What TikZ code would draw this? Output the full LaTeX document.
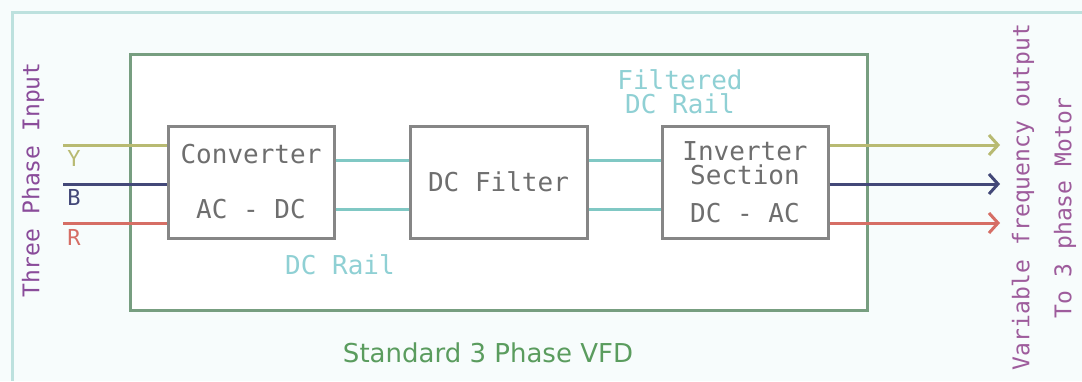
\documentclass[tikz,border=0pt]{standalone}
\usepackage{fontspec}
\setmainfont{DejaVu Sans}
\setmonofont{DejaVu Sans Mono}
\usetikzlibrary{arrows.meta}
\definecolor{FrameTeal}{HTML}{BDE1DE}
\definecolor{PaperTint}{HTML}{F7FCFC}
\definecolor{BoxGreen}{HTML}{779E80}
\definecolor{BoxGray}{HTML}{868686}
\definecolor{TextGray}{HTML}{6E6E6E}
\definecolor{RailTeal}{HTML}{80C8C4}
\definecolor{RailText}{HTML}{8FD0D4}
\definecolor{PhaseY}{HTML}{B8BA72}
\definecolor{PhaseB}{HTML}{434878}
\definecolor{PhaseR}{HTML}{D66E65}
\definecolor{InputPurple}{HTML}{8A4C9A}
\definecolor{OutputPurple}{HTML}{9E5C9C}
\definecolor{VfdGreen}{HTML}{5A9C5E}

\tikzset{
  block/.style={draw=BoxGray, line width=3pt, fill=white, minimum width=166pt, minimum height=112pt, inner sep=0pt, align=center, text=TextGray, font=\ttfamily\fontsize{26}{24}\selectfont},
  rail/.style={RailTeal, line width=3pt},
  phasein/.style={line width=3pt},
  phaseout/.style={line width=3pt, -{Straight Barb[length=9pt,width=20pt,line width=3pt]}},
  railtext/.style={text=RailText, align=center, inner sep=0pt, font=\ttfamily\fontsize{26}{24}\selectfont},
  sidetext/.style={rotate=90, inner sep=0pt, font=\ttfamily\fontsize{23}{23}\selectfont},
  phasetext/.style={inner sep=0pt, font=\ttfamily\fontsize{22}{22}\selectfont}
}

\begin{document}
\begin{tikzpicture}[x=1pt,y=-1pt]
            % page and outer frame
            \useasboundingbox (0,0) rectangle (1082,381);
            \fill[PaperTint] (0,0) rectangle (1082,381);
            \draw[FrameTeal, line width=3pt] (1082,12) -- (12,12) -- (12,381);

            % drive enclosure and its three stages
            \node[draw=BoxGreen, line width=3pt, fill=white, minimum width=737pt, minimum height=256pt] (vfd) at (498.5,182) {};
            \node[block] (conv) at (251,182) {Converter\\[31pt]AC - DC};
            \node[block, minimum width=177pt] (filt) at (498.5,182) {DC Filter};
            \node[block] (inv) at (745,182) {Inverter\\Section\\[14pt]DC - AC};

            % supply and motor ends
            \coordinate (inY) at (63,145);
            \coordinate (inB) at (63,184);
            \coordinate (inR) at (63,223);
            \coordinate (outY) at (1000,145);
            \coordinate (outB) at (1000,184);
            \coordinate (outR) at (1000,223);

            \draw[phasein, PhaseY] (inY) -- (inY -| conv.west);
            \draw[phasein, PhaseB] (inB) -- (inB -| conv.west);
            \draw[phasein, PhaseR] (inR) -- (inR -| conv.west);

            \draw[rail] ([yshift=-27pt]conv.east) -- ([yshift=-27pt]filt.west);
            \draw[rail] ([yshift=22pt]conv.east) -- ([yshift=22pt]filt.west);
            \draw[rail] ([yshift=-27pt]filt.east) -- ([yshift=-27pt]inv.west);
            \draw[rail] ([yshift=22pt]filt.east) -- ([yshift=22pt]inv.west);

            \draw[phaseout, PhaseY] (inv.east |- outY) -- (outY);
            \draw[phaseout, PhaseB] (inv.east |- outB) -- (outB);
            \draw[phaseout, PhaseR] (inv.east |- outR) -- (outR);

            % labels
            \node[phasetext, text=PhaseY] (lblY) at (74,158) {Y};
            \node[phasetext, text=PhaseB] (lblB) at (74,197) {B};
            \node[phasetext, text=PhaseR] (lblR) at (74,237) {R};
            \node[sidetext, text=InputPurple] (input) at (33,180) {Three Phase Input};
            \node[sidetext, text=OutputPurple] (outfreq) at (1023,197) {Variable frequency output};
            \node[sidetext, text=OutputPurple] (motor) at (1065,208) {To 3 phase Motor};
            \node[railtext] (dcrail) at (340,265) {DC Rail};
            \node[railtext] (filtrail) at (680,92) {Filtered\\DC Rail};
            \node[text=VfdGreen, font=\fontsize{26}{26}\selectfont] (vfdname) at (488,353) {Standard 3 Phase VFD};
        \end{tikzpicture}
\end{document}
